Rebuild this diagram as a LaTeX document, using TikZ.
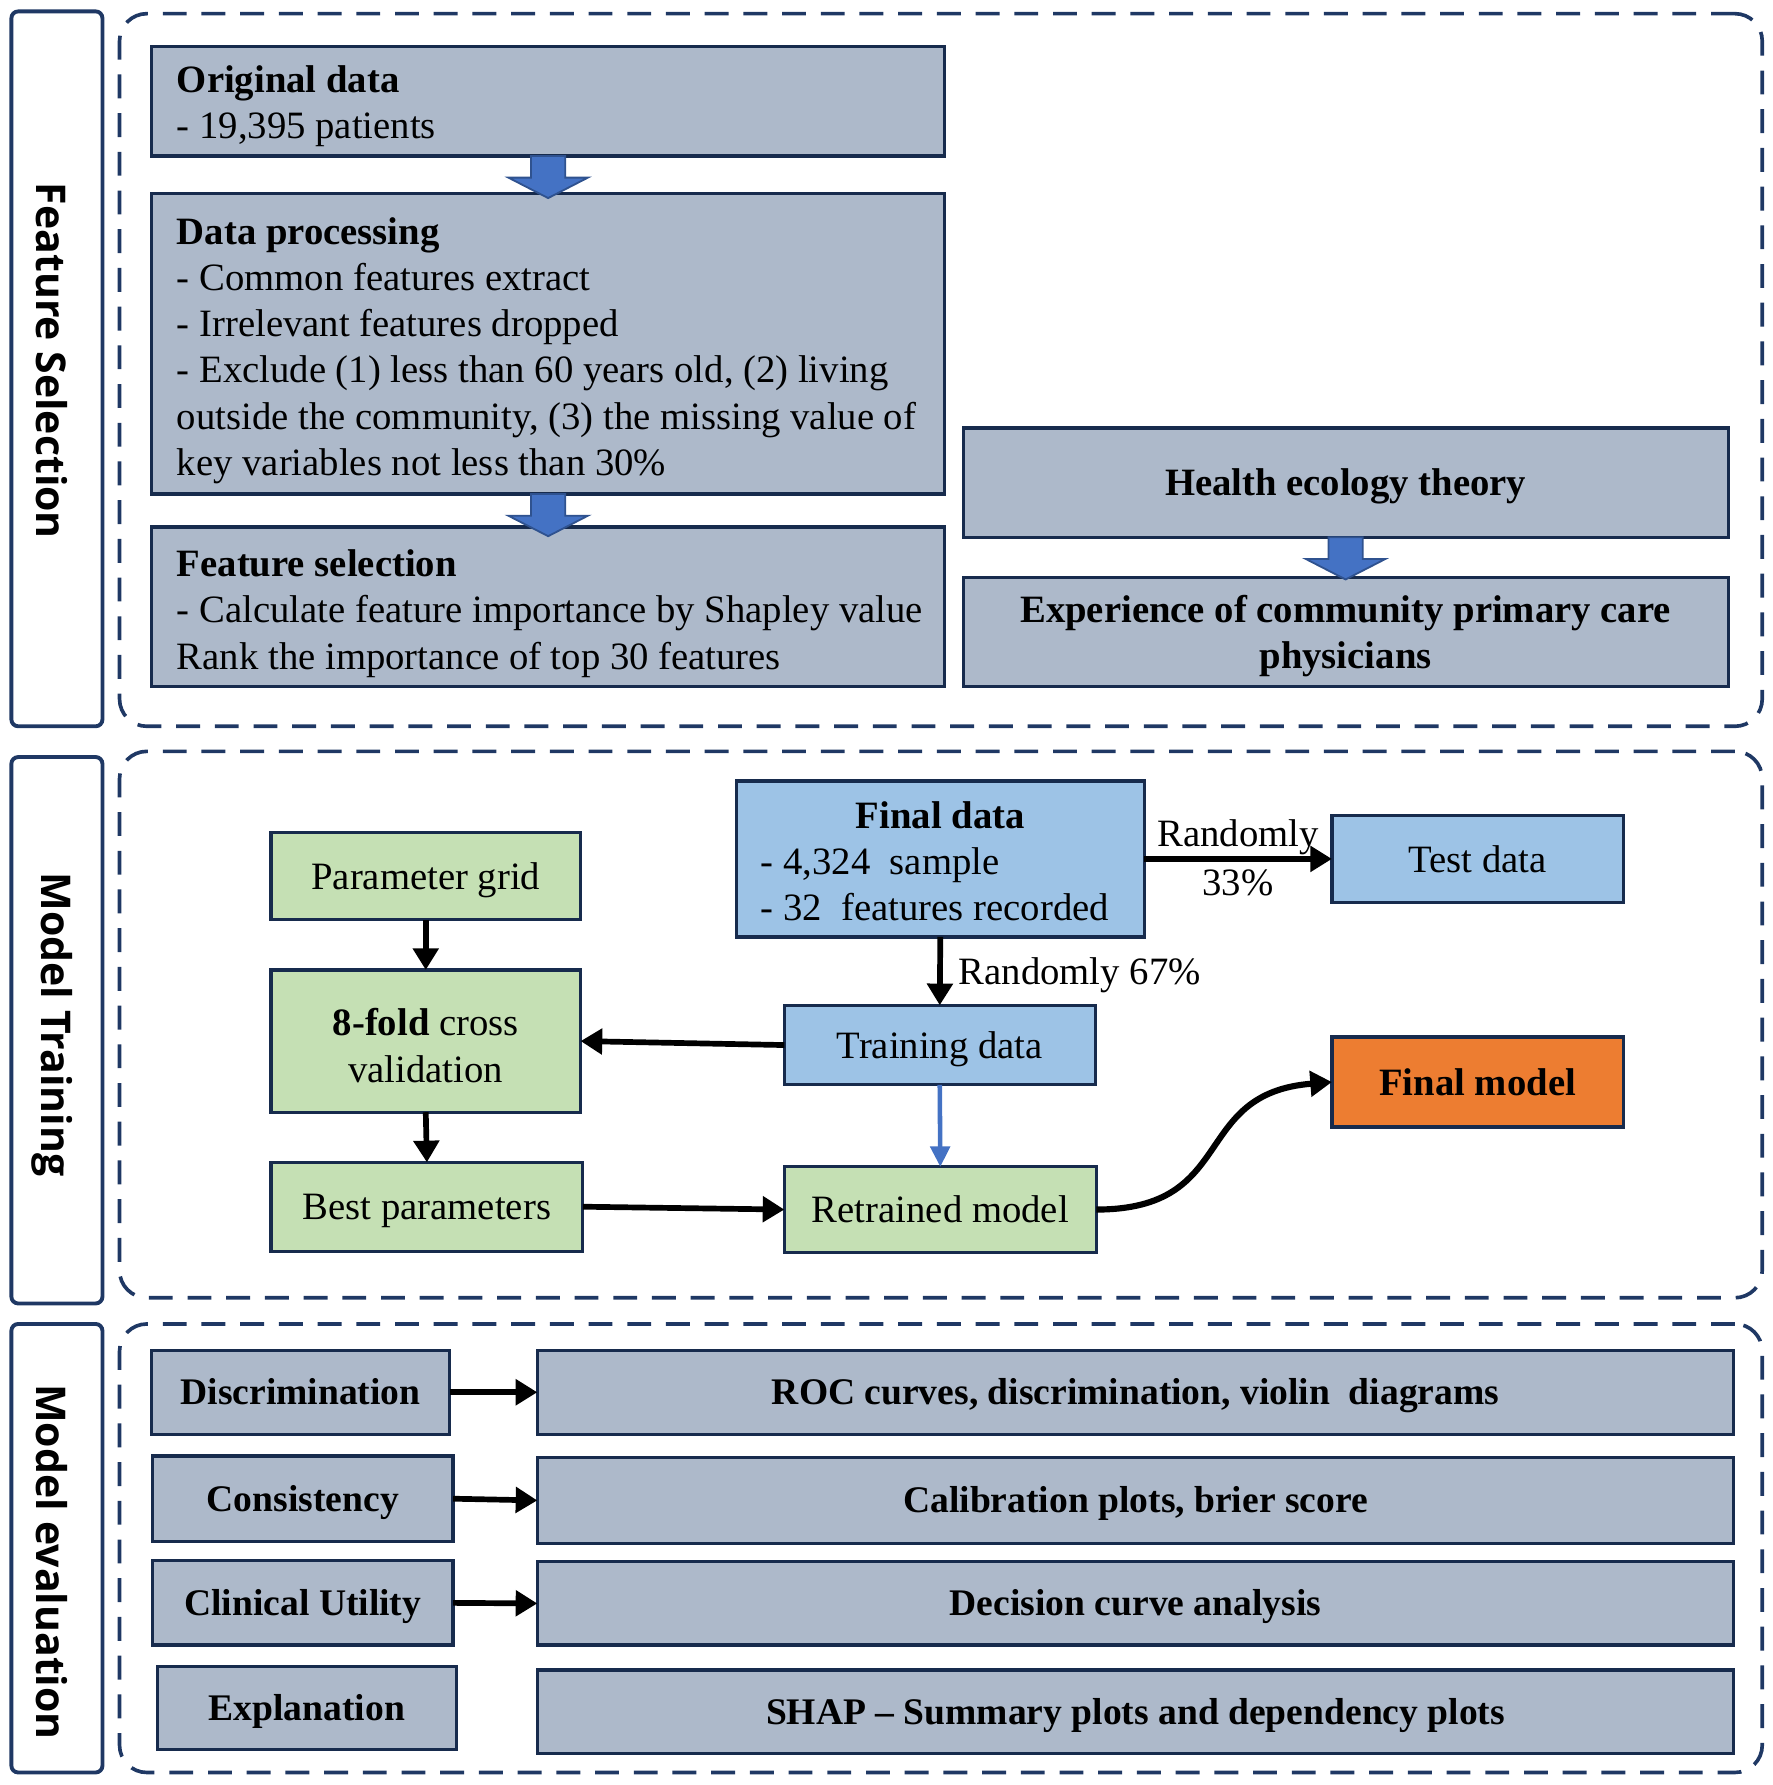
\documentclass[tikz,border=0pt]{standalone}
\usepackage{fontspec}
\setmainfont{Liberation Serif}
\newfontfamily\sidefont{Open Sans}
\usetikzlibrary{arrows.meta,calc}
\definecolor{fillgray}{HTML}{ADB9CA}
\definecolor{lblue}{HTML}{9DC3E6}
\definecolor{lgreen}{HTML}{C5E0B4}
\definecolor{orangebox}{HTML}{ED7D31}
\definecolor{boxline}{HTML}{172B4D}
\definecolor{frameline}{HTML}{1F3864}
\definecolor{barrow}{HTML}{4472C4}
\definecolor{barrowline}{HTML}{2F528F}
\newcommand{\blockarr}[1]{%
  \filldraw[fill=barrow, draw=barrowline, line width=0.8pt, line join=miter]
    ($(#1)+(-15,0)$) -- ++(0,19) -- ++(-20,0) -- ++(35,18) -- ++(35,-18) -- ++(-20,0) -- ++(0,-19) -- cycle;}
\begin{document}
\begin{tikzpicture}[x=0.5pt,y=-0.5pt,
  every node/.style={font=\fontsize{17}{20.3}\selectfont},
  bx/.style={draw=boxline, line width=1.4pt, inner sep=0pt, outer sep=0pt, text height=11.5pt, text depth=0pt},
  graybox/.style={bx, fill=fillgray},
  bluebox/.style={bx, fill=lblue},
  greenbox/.style={bx, fill=lgreen},
  orangeb/.style={bx, fill=orangebox},
  sidebox/.style={draw=frameline, line width=1.7pt, rounded corners=3pt, fill=white, inner sep=0pt},
  sidelabel/.style={font=\sidefont\bfseries\fontsize{18}{20}\selectfont, rotate=-90, inner sep=0pt},
  frame/.style={draw=frameline, line width=1.6pt, dash pattern=on 10.5pt off 6.5pt, rounded corners=12pt, inner sep=0pt},
  lefttext/.style={anchor=west, align=left, inner sep=0pt, yshift=-2pt},
  ctext/.style={align=center, inner sep=0pt, yshift=-2pt},
  lbl/.style={inner sep=0pt, text height=11.5pt, text depth=0pt},
  evalfont/.style={font=\bfseries\fontsize{16.5}{19.8}\selectfont, text height=11pt},
  conn/.style={line width=2.5pt, black, -{Triangle[length=9.5pt,width=11pt]}},
  bconn/.style={line width=2pt, barrow, -{Triangle[length=9pt,width=8.5pt]}}
]
\useasboundingbox (0,0) rectangle (1557,1568);

% frames
\node[frame, minimum width=721.5pt, minimum height=313pt] (f1) at (826.5,325) {};
\node[frame, minimum width=721.5pt, minimum height=240pt] (f2) at (826.5,900) {};
\node[frame, minimum width=721.5pt, minimum height=197pt] (f3) at (826.5,1360) {};

% side bars
\node[sidebox, minimum width=40pt, minimum height=314pt] (s1) at (50,324) {};
\node[sidebox, minimum width=40pt, minimum height=240pt] (s2) at (50,905) {};
\node[sidebox, minimum width=40pt, minimum height=197pt] (s3) at (50,1360) {};
\node[sidelabel] (l1) at (46,317) {Feature Selection};
\node[sidelabel] (l2) at (46,900) {Model Training};
\node[sidelabel] (l3) at (46,1372) {Model evaluation};

% feature selection section
\node[graybox, minimum width=348.5pt, minimum height=48pt] (orig) at (481.5,89) {};
\node[lefttext] (orig-t) at (155,89) {\textbf{Original data}\\- 19,395 patients};
\node[graybox, minimum width=348.5pt, minimum height=132pt] (dproc) at (481.5,302) {};
\node[lefttext] (dproc-t) at (155,304) {\textbf{Data processing}\\
- Common features extract\\
- Irrelevant features dropped\\
- Exclude (1) less than 60 years old, (2) living\\
outside the community, (3) the missing value of\\
key variables not less than 30\%};
\node[graybox, minimum width=348.5pt, minimum height=70pt] (fsel) at (481.5,533) {};
\node[lefttext] (fsel-t) at (155,535) {\textbf{Feature selection}\\
- Calculate feature importance by Shapley value\\
Rank the importance of top 30 features};
\node[graybox, minimum width=336pt, minimum height=48pt, font=\bfseries\fontsize{17}{20.3}\selectfont] (health) at (1182,424) {Health ecology theory};
\node[graybox, minimum width=336pt, minimum height=48pt] (exper) at (1182,555) {};
\node[ctext, font=\bfseries\fontsize{17}{20.3}\selectfont] (exper-t) at (exper) {Experience of community primary care\\physicians};

\blockarr{orig.south}
\blockarr{dproc.south}
\blockarr{health.south}

% model training section
\node[bluebox, minimum width=179pt, minimum height=68.5pt] (final) at (826,754.5) {};
\node[lbl, font=\bfseries\fontsize{17}{20.3}\selectfont] (final-h) at (826,716) {Final data};
\node[lefttext, yshift=2pt] (final-t) at (668,776.5) {- 4,324\ \ sample\\- 32\ \ features recorded};
\node[bluebox, minimum width=128pt, minimum height=38.5pt] (test) at (1298,754.5) {Test data};
\node[greenbox, minimum width=136pt, minimum height=38.5pt] (pgrid) at (374,769.5) {Parameter grid};
\node[greenbox, minimum width=136pt, minimum height=62.5pt] (cv) at (374,914.5) {};
\node[ctext] (cv-t) at (cv) {\textbf{8-fold} cross\\validation};
\node[greenbox, minimum width=137pt, minimum height=39pt] (best) at (375,1060) {Best parameters};
\node[bluebox, minimum width=136.5pt, minimum height=35pt] (train) at (825.5,918) {Training data};
\node[greenbox, minimum width=137pt, minimum height=37.5pt] (retr) at (826,1062.5) {Retrained model};
\node[orangeb, minimum width=128pt, minimum height=39.5pt, font=\bfseries\fontsize{17}{20.3}\selectfont] (fmodel) at (1298,950.5) {Final model};

\draw[conn] (final.east) -- node[lbl, midway, yshift=11pt] (lab33a) {Randomly} node[lbl, midway, yshift=-10.5pt] (lab33b) {33\%} (test.west);
\draw[conn] (final.south) -- node[lbl, right, xshift=7pt] (lab67) {Randomly 67\%} (train.north);
\draw[conn] (pgrid.south) -- (cv.north);
\draw[conn] (cv.south) -- (best.north);
\draw[conn] (train.west) -- (cv.east);
\draw[bconn] (train.south) -- (retr.north);
\draw[conn] (best.east) -- (retr.west);
\draw[conn, line width=2.7pt] (retr.east) .. controls +(125,0) and +(-125,10) .. (fmodel.west);

% model evaluation section
\node[graybox, evalfont, minimum width=131pt, minimum height=37pt] (disc) at (264,1223) {Discrimination};
\node[graybox, evalfont, minimum width=525.5pt, minimum height=37pt] (roc) at (997.5,1223) {ROC curves, discrimination, violin\ \ diagrams};
\node[graybox, evalfont, minimum width=132pt, minimum height=37.5pt] (cons) at (266,1316.5) {Consistency};
\node[graybox, evalfont, minimum width=525.5pt, minimum height=38pt] (calib) at (997.5,1318) {Calibration plots, brier score};
\node[graybox, evalfont, minimum width=132pt, minimum height=37pt] (clin) at (266,1408) {Clinical Utility};
\node[graybox, evalfont, minimum width=525.5pt, minimum height=36.5pt] (dec) at (997.5,1408.5) {Decision curve analysis};
\node[graybox, evalfont, minimum width=131.5pt, minimum height=36.5pt] (expl) at (269.5,1500.5) {Explanation};
\node[graybox, evalfont, minimum width=525.5pt, minimum height=36.5pt] (shap) at (997.5,1503.5) {SHAP -- Summary plots and dependency plots};

\draw[conn] (disc.east) -- (roc.west);
\draw[conn] (cons.east) -- (calib.west);
\draw[conn] (clin.east) -- (dec.west);
\end{tikzpicture}
\end{document}
